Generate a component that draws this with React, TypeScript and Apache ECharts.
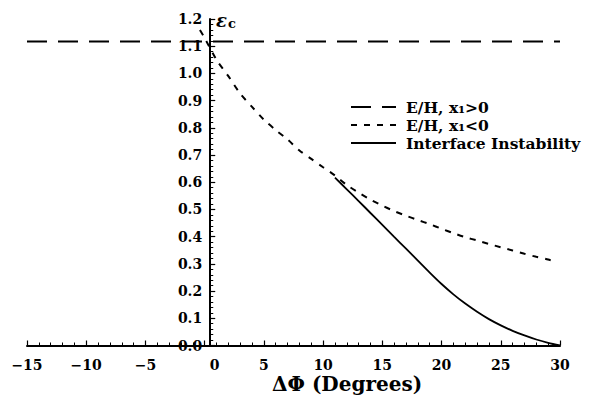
import React, { useEffect, useRef } from "react";
import * as echarts from "echarts";

// E/H, x1>0 : horizontal level
const hLineX = [-15, 30];
const hLineY = [1.117, 1.117];

// E/H, x1<0
const dashX = [-0.4, 0, 1, 2, 3, 4, 5, 6, 7, 8, 9, 10, 11, 12, 13, 14, 15, 16, 17, 18, 19, 20, 21, 22, 23, 24, 25, 26, 27, 28, 29, 29.6];
const dashY = [1.16, 1.13, 1.05, 0.99, 0.926, 0.877, 0.83, 0.792, 0.757, 0.717, 0.686, 0.655, 0.625, 0.59, 0.562, 0.536, 0.514, 0.494, 0.477, 0.461, 0.446, 0.429, 0.413, 0.398, 0.386, 0.373, 0.361, 0.349, 0.337, 0.326, 0.316, 0.307];

// Interface Instability
const solidX = [11, 12, 13, 14, 15, 16, 17, 18, 19, 20, 21, 22, 23, 24, 25, 26, 27, 28, 29, 30];
const solidY = [0.617, 0.574, 0.531, 0.487, 0.443, 0.399, 0.356, 0.312, 0.268, 0.226, 0.188, 0.154, 0.124, 0.097, 0.074, 0.054, 0.037, 0.022, 0.01, 0];

const seriesNames = ["E/H, x\u2081>0", "E/H, x\u2081<0", "Interface Instability"];
const xAxisTitle = "\u0394\u03A6 (Degrees)";

const FONT = "DejaVu Serif";
const GRID_LEFT = 27;

function zip(xs: number[], ys: number[]) {
  return xs.map((x, i) => [x, ys[i]]);
}

export default function App() {
  const ref = useRef<HTMLDivElement>(null);
  useEffect(() => {
    if (!ref.current) return;
    const chart = echarts.init(ref.current, undefined, { renderer: "svg" });
    const labelFont = { fontFamily: FONT, fontWeight: "bold" as const, fontSize: 14, color: "#000" };
    chart.setOption({
      animation: false,
      backgroundColor: "#fff",
      grid: { left: GRID_LEFT, right: 30, top: 19, bottom: 57.5 },
      xAxis: {
        type: "value",
        min: -15,
        max: 30,
        interval: 5,
        axisLine: { onZero: true, lineStyle: { color: "#000", width: 2 } },
        axisTick: { inside: true, length: 5, lineStyle: { color: "#000", width: 1.2 } },
        minorTick: { show: true, splitNumber: 5, length: 3, lineStyle: { color: "#000", width: 1 } },
        splitLine: { show: false },
        axisLabel: {
          ...labelFont,
          margin: 12,
          formatter: (v: number) => (v === 0 ? "{z|0}" : String(v).replace("-", "\u2212")),
          rich: { z: { ...labelFont, padding: [0, 0, 0, 20] } },
        },
      },
      yAxis: {
        type: "value",
        min: 0,
        max: 1.2,
        interval: 0.1,
        axisLine: { onZero: false, lineStyle: { color: "#000", width: 2 } },
        axisTick: { inside: true, length: 5, lineStyle: { color: "#000", width: 1.2 } },
        minorTick: { show: true, splitNumber: 5, length: 3, lineStyle: { color: "#000", width: 1 } },
        splitLine: { show: false },
        axisLabel: {
          ...labelFont,
          margin: 8,
          formatter: (v: number) => v.toFixed(1),
        },
      },
      legend: {
        orient: "vertical",
        left: 345,
        top: 94,
        itemWidth: 45,
        itemHeight: 14,
        itemGap: 2,
        itemStyle: { opacity: 0 },
        textStyle: { ...labelFont, fontSize: 15.5, lineHeight: 15.5, padding: [0, 0, 0, 5] },
        data: seriesNames,
      },
      graphic: [
        {
          type: "text",
          left: 272,
          top: 374,
          style: {
            text: xAxisTitle,
            font: `bold 20px "${FONT}"`,
            fill: "#000",
          },
        },
        {
          type: "text",
          left: 216,
          top: 11,
          style: {
            text: "{e|\u03B5}{s|c}",
            rich: {
              e: { fontFamily: FONT, fontSize: 18, fontStyle: "italic", fontWeight: "bold", fill: "#000" },
              s: { fontFamily: FONT, fontSize: 13, fontWeight: "bold", fill: "#000", padding: [6, 0, 0, 1] },
            },
          },
        },
      ],
      series: [
        {
          name: seriesNames[0],
          type: "line",
          data: zip(hLineX, hLineY),
          symbol: "none",
          lineStyle: { color: "#000", width: 2, type: [20, 11] },
          itemStyle: { color: "#000" },
        },
        {
          name: seriesNames[1],
          type: "line",
          data: zip(dashX, dashY),
          symbol: "none",
          smooth: 0.3,
          lineStyle: { color: "#000", width: 2, type: [6, 7] },
          itemStyle: { color: "#000" },
        },
        {
          name: seriesNames[2],
          type: "line",
          data: zip(solidX, solidY),
          symbol: "none",
          smooth: 0.3,
          lineStyle: { color: "#000", width: 1.8, type: "solid" },
          itemStyle: { color: "#000" },
        },
      ],
    });
    // place the y axis (line and labels) at x = 0 of the x scale
    const x0 = chart.convertToPixel({ xAxisIndex: 0 }, 0) as number;
    chart.setOption({ yAxis: { offset: -(x0 - GRID_LEFT) } });
    return () => chart.dispose();
  }, []);
  return (
    <div
      ref={ref}
      style={{ position: "absolute", left: 0, top: 0, width: 590, height: 403 }}
    />
  );
}
